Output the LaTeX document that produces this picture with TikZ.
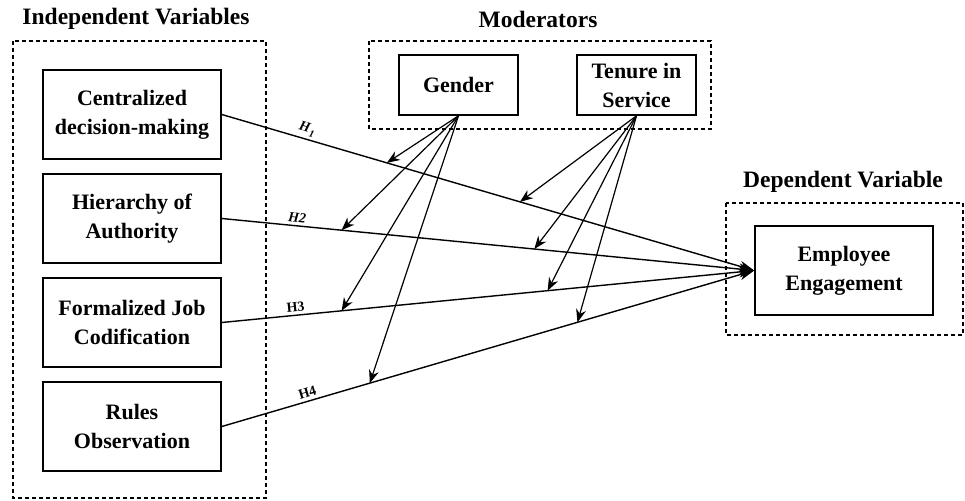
\documentclass[tikz,border=0pt]{standalone}
\usepackage{fontspec}
\setmainfont{Liberation Serif}
\usetikzlibrary{calc,arrows.meta}

\begin{document}
\begin{tikzpicture}[x=1pt,y=-1pt,
  var/.style={draw, line width=1.6pt, inner sep=0pt, align=center, font=\bfseries\fontsize{22}{29}\selectfont},
  grp/.style={draw, line width=1.3pt, dash pattern=on 4pt off 3pt},
  ttl/.style={font=\bfseries\fontsize{23.5}{27}\selectfont},
  hyp/.style={line width=1.4pt, -{Stealth[length=15pt,width=11pt]}},
  mod/.style={line width=1.2pt, -{Stealth[length=13pt,width=10pt]}},
  lab/.style={font=\bfseries\fontsize{14}{16}\selectfont, sloped, above, inner sep=3pt}]
\useasboundingbox (0,0) rectangle (965,500);
% group frames and their titles
\draw[grp] (13,41) rectangle (266,498);
\draw[grp] (369,41) rectangle (711,129);
\draw[grp] (726,203) rectangle (963,335);
\node[ttl] (tiv) at (136,19) {Independent Variables};
\node[ttl] (tmod) at (538,19) {Moderators};
\node[ttl] (tdv) at (843,182) {Dependent Variable};
% the variables
\node[var, minimum width=178pt, minimum height=89pt] (cdm) at (132,114.5) {Centralized\\decision-making};
\node[var, minimum width=178pt, minimum height=89pt] (hoa) at (132,218.5) {Hierarchy of\\Authority};
\node[var, minimum width=178pt, minimum height=89pt] (fjc) at (132,322.5) {Formalized Job\\Codification};
\node[var, minimum width=178pt, minimum height=89pt] (ro) at (132,426.5) {Rules\\Observation};
\node[var, minimum width=119pt, minimum height=60pt] (gen) at (458.5,85) {Gender};
\node[var, minimum width=119pt, minimum height=60pt] (ten) at (636.5,85) {Tenure in\\Service};
\node[var, minimum width=178pt, minimum height=89pt] (ee) at (844,270.5) {Employee\\Engagement};
% hypotheses
\draw[hyp] (cdm.east) -- (ee.west) node[lab, pos=0.155] {\itshape H\kern0.6pt\raisebox{-3pt}{\fontsize{10}{10}\selectfont 1}};
\draw[hyp] (hoa.east) -- (ee.west) node[lab, pos=0.14] {\itshape H2};
\draw[hyp] (fjc.east) -- (ee.west) node[lab, pos=0.14] {H3};
\draw[hyp] (ro.east) -- (ee.west) node[lab, pos=0.165] {H4};
% moderating points on the paths
\coordinate (g1) at ($(cdm.east)!0.31!(ee.west)$);
\coordinate (g2) at ($(hoa.east)!0.225!(ee.west)$);
\coordinate (g3) at ($(fjc.east)!0.225!(ee.west)$);
\coordinate (g4) at ($(ro.east)!0.278!(ee.west)$);
\coordinate (t1) at ($(cdm.east)!0.56!(ee.west)$);
\coordinate (t2) at ($(hoa.east)!0.587!(ee.west)$);
\coordinate (t3) at ($(fjc.east)!0.612!(ee.west)$);
\coordinate (t4) at ($(ro.east)!0.668!(ee.west)$);
\foreach \p in {g1,g2,g3,g4} \draw[mod] (gen.south) -- (\p);
\foreach \p in {t1,t2,t3,t4} \draw[mod] (ten.south) -- (\p);
\end{tikzpicture}
\end{document}
